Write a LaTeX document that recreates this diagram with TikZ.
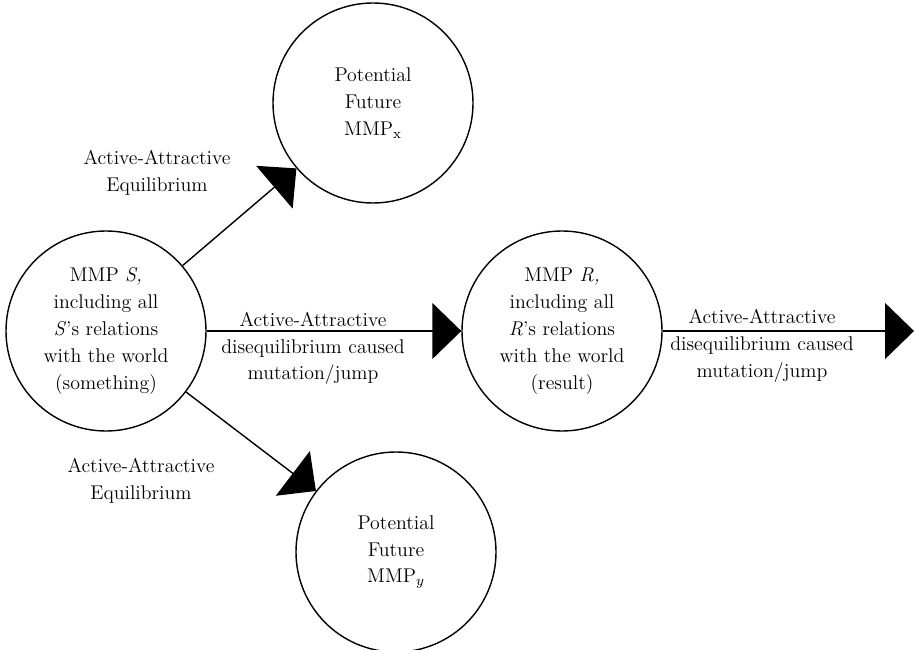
\documentclass[tikz,border=0pt]{standalone}
\usepackage{tikz}
\usetikzlibrary{arrows.meta}

\begin{document}
\begin{tikzpicture}[
  mmp/.style={draw, circle, line width=0.8pt, minimum size=4cm, inner sep=0pt, align=center, font=\fontsize{11.3}{15.3}\selectfont},
  lbl/.style={align=center, inner sep=1pt, font=\fontsize{11.3}{15.3}\selectfont},
  arrow/.style={-{Triangle[length=0.58cm, width=1.12cm]}, line width=0.8pt}
]
\useasboundingbox (0,0) rectangle (18.28,-13);
\node[mmp] (s) at (2.12,-6.62) {MMP \textit{S,}\\including all\\\textit{S}'s relations\\with the world\\(something)};
\node[mmp] (x) at (7.46,-2.06) {Potential\\Future\\MMP$_{\mathrm{x}}$};
\node[mmp] (y) at (7.92,-11.04) {Potential\\Future\\MMP$_y$};
\node[mmp] (r) at (11.24,-6.62) {MMP \textit{R,}\\including all\\\textit{R}'s relations\\with the world\\(result)};
\coordinate (next) at (18.28,-6.62);
\draw[arrow] (s) -- (x);
\draw[arrow] (s) -- (y);
\draw[arrow] (s) -- (r);
\draw[arrow] (r) -- (next);
\node[lbl] (eqx) at (3.14,-3.46) {Active-Attractive\\Equilibrium};
\node[lbl] (eqy) at (2.82,-9.62) {Active-Attractive\\Equilibrium};
\node[lbl] (jumpr) at (6.26,-6.97) {Active-Attractive\\disequilibrium caused\\mutation/jump};
\node[lbl] (jumpn) at (15.24,-6.92) {Active-Attractive\\disequilibrium caused\\mutation/jump};
\end{tikzpicture}
\end{document}
